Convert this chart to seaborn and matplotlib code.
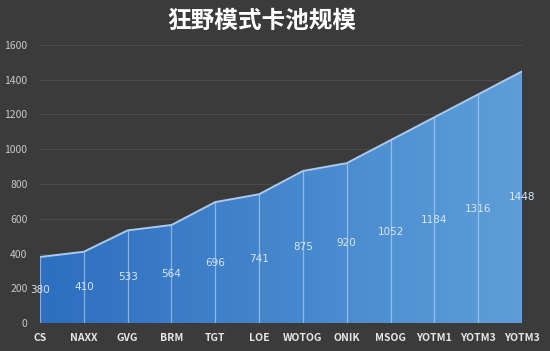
import numpy as np
import matplotlib
matplotlib.use("Agg")
import matplotlib.pyplot as plt
import seaborn as sns
import pandas as pd
from matplotlib.colors import LinearSegmentedColormap

# card pool size per expansion
expansions = ["CS", "NAXX", "GVG", "BRM", "TGT", "LOE", "WOTOG", "ONIK",
              "MSOG", "YOTM1", "YOTM3", "YOTM3"]
pool_size = [380, 410, 533, 564, 696, 741, 875, 920, 1052, 1184, 1316, 1448]
y_ticks = [0, 200, 400, 600, 800, 1000, 1200, 1400, 1600]
title = "狂野模式卡池规模"

df = pd.DataFrame({"idx": np.arange(len(pool_size)), "size": pool_size})

bg = "#3b3b3b"
sns.set_style("dark")
plt.rcParams["font.family"] = ["Noto Sans CJK SC", "DejaVu Sans"]

fig = plt.figure(figsize=(5.5, 3.51), dpi=100, facecolor=bg)
ax = fig.add_axes([40 / 550, 1 - 323 / 351, 482 / 550, 278 / 351])
ax.set_facecolor(bg)

# gradient fill under the line
fill = ax.fill_between(df["idx"], 0, df["size"], color="none")
cmap = LinearSegmentedColormap.from_list("blues", ["#2d6fc0", "#5d9ed9"])
grad = ax.imshow(np.linspace(0, 1, 256).reshape(1, -1), cmap=cmap, aspect="auto",
                 extent=[0, len(pool_size) - 1, 0, max(y_ticks)], zorder=2)
grad.set_clip_path(fill.get_paths()[0], transform=ax.transData)

sns.lineplot(data=df, x="idx", y="size", ax=ax, color="#a9c9ee", linewidth=1.4, zorder=4)

# vertical separators and value labels
ax.vlines(df["idx"], 0, df["size"], color="#cfe0f4", alpha=0.55, linewidth=0.9, zorder=3)
for i, v in zip(df["idx"], df["size"]):
    ax.text(i, v / 2, str(v), ha="center", va="center", fontsize=7.5,
            color="#d8e6f5", zorder=5, family=["DejaVu Sans"])

ax.set_xlim(0, len(pool_size) - 1)
ax.set_ylim(0, max(y_ticks))
ax.set_yticks(y_ticks)
ax.set_yticklabels([str(t) for t in y_ticks], fontsize=7.5, color="#c8c8c8")
ax.set_xticks(df["idx"])
ax.set_xticklabels(expansions, fontsize=7.5, fontweight="bold", color="#e6e6e6")
ax.tick_params(axis="both", length=0)
ax.tick_params(axis="y", pad=9)
ax.tick_params(axis="x", pad=7)
ax.set_xlabel("")
ax.set_ylabel("")
ax.grid(axis="y", color="#4b4b4b", linewidth=0.8)
ax.grid(axis="x", visible=False)
ax.set_axisbelow(True)
for s in ax.spines.values():
    s.set_visible(False)

fig.text(262 / 550, 1 - 21 / 351, title, ha="center", va="center",
         fontsize=17, fontweight="bold", color="white")

fig.savefig("out.png", dpi=100, facecolor=bg)
